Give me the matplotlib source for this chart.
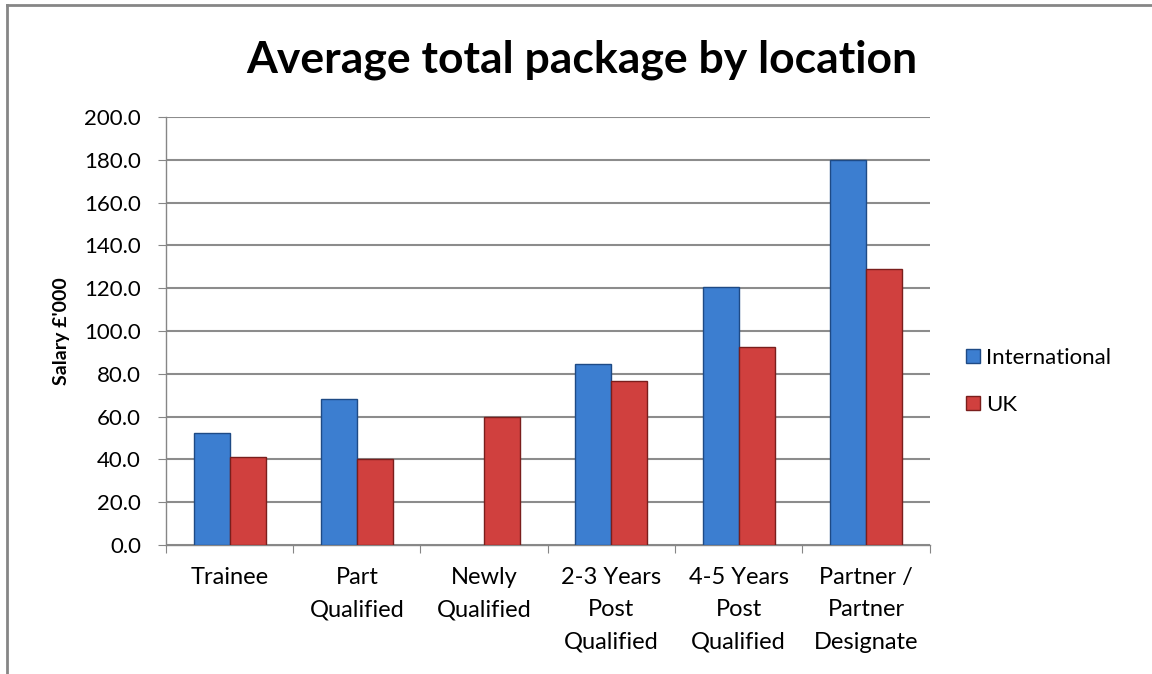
"""
Average total package by location -- grouped bar chart (International vs UK).
"""
import matplotlib
matplotlib.use("Agg")
import matplotlib.pyplot as plt
import numpy as np
from matplotlib.lines import Line2D

# ── Data ──────────────────────────────────────────────────────────────────────
categories = ["Trainee", "Part\nQualified", "Newly\nQualified",
              "2-3 Years\nPost\nQualified", "4-5 Years\nPost\nQualified",
              "Partner /\nPartner\nDesignate"]
international = [52.2, 68.3, np.nan, 84.4, 120.4, 180.0]
uk = [41.0, 40.0, 59.8, 76.6, 92.4, 128.8]
series_names = ["International", "UK"]
y_ticks = [0, 20, 40, 60, 80, 100, 120, 140, 160, 180, 200]

# ── Style ─────────────────────────────────────────────────────────────────────
plt.rcParams["font.family"] = ["Lato", "DejaVu Sans"]
BLUE, BLUE_EDGE = "#3C7ED0", "#1E4A85"
RED, RED_EDGE = "#D0403E", "#7A1E1C"
GRID = "#8C8C8C"
AXIS = "#868686"
BAR_W = 0.283

fig = plt.figure(figsize=(11.52, 6.74), dpi=100)
ax = fig.add_axes([0.144, 0.1914, 0.663, 0.635])

x = np.arange(len(categories))
ax.bar(x - BAR_W / 2, international, BAR_W, color=BLUE, edgecolor=BLUE_EDGE,
       linewidth=1.0, label=series_names[0], zorder=3)
ax.bar(x + BAR_W / 2, uk, BAR_W, color=RED, edgecolor=RED_EDGE,
       linewidth=1.0, label=series_names[1], zorder=3)

ax.set_xlim(-0.5, len(categories) - 0.5)
ax.set_ylim(0, 200)
ax.set_yticks(y_ticks)
ax.set_yticklabels([f"{v:.1f}" for v in y_ticks], fontsize=16)
ax.yaxis.grid(True, color=GRID, linewidth=1.5, zorder=0)
ax.set_axisbelow(True)

# category boundaries carry the tick marks, labels sit on minor ticks
ax.set_xticks(np.arange(-0.5, len(categories), 1.0))
ax.set_xticklabels([])
ax.set_xticks(x, minor=True)
ax.set_xticklabels(categories, minor=True, fontsize=17, linespacing=1.66,
                   va="top")
ax.tick_params(axis="x", which="major", length=6, color=AXIS)
ax.tick_params(axis="x", which="minor", length=0, pad=16)
ax.tick_params(axis="y", length=6, color=AXIS, pad=12)

for side in ["top", "right"]:
    ax.spines[side].set_visible(False)
for side in ["left", "bottom"]:
    ax.spines[side].set_color(AXIS)
    ax.spines[side].set_linewidth(1.0)

ax.set_ylabel("Salary £'000", fontsize=14, fontweight="bold", labelpad=10)

fig.text(0.505, 0.912, "Average total package by location", ha="center",
         va="center", fontsize=32, fontweight="bold")

ax.legend(loc="center left", bbox_to_anchor=(1.022, 0.382), frameon=False,
          fontsize=16, handlelength=0.6, handleheight=0.6, handletextpad=0.3,
          labelspacing=1.2)

# chart border: only top and left edges are visible in the crop
fig.add_artist(Line2D([0.006, 1.0], [0.993, 0.993], transform=fig.transFigure,
                      color=AXIS, linewidth=2))
fig.add_artist(Line2D([0.006, 0.006], [0.0, 0.993], transform=fig.transFigure,
                      color=AXIS, linewidth=2))

fig.savefig("out.png", dpi=100)
